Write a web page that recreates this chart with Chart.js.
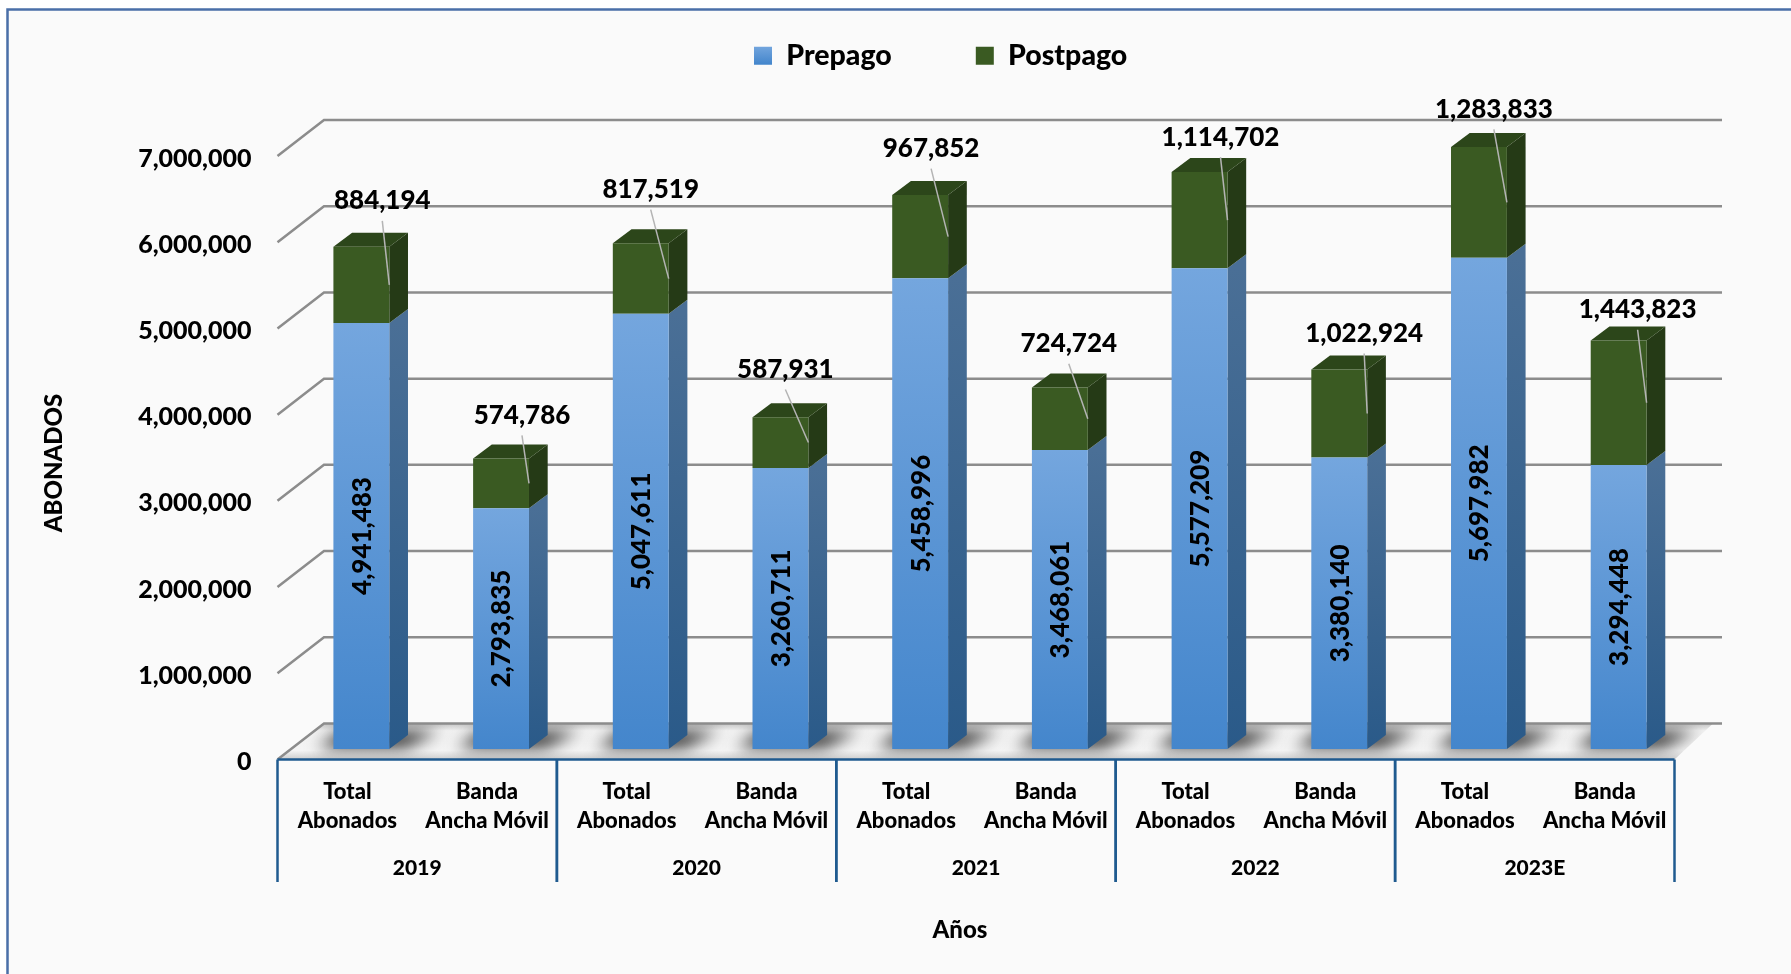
<!DOCTYPE html>
<html lang="es">
<head>
<meta charset="utf-8">
<title>Abonados</title>
<style>html,body{margin:0;padding:0;background:#fff}canvas{display:block}</style>
<script src="https://cdn.jsdelivr.net/npm/chart.js@4"></script>
</head>
<body>
<canvas id="c" width="1791" height="974"></canvas>
<script>
const categories = [
  ['Total','Abonados'],['Banda','Ancha Móvil'],
  ['Total','Abonados'],['Banda','Ancha Móvil'],
  ['Total','Abonados'],['Banda','Ancha Móvil'],
  ['Total','Abonados'],['Banda','Ancha Móvil'],
  ['Total','Abonados'],['Banda','Ancha Móvil']
];
const years = ['2019','2020','2021','2022','2023E'];
const prepago = [4941483,2793835,5047611,3260711,5458996,3468061,5577209,3380140,5697982,3294448];
const postpago = [884194,574786,817519,587931,967852,724724,1114702,1022924,1283833,1443823];
const yAxisTitle = 'ABONADOS';
const xAxisTitle = 'Años';

// Hand placement of the Postpago labels, relative to the end of their leader line
const leaderDx = [-7,-7,-18,-23,-17,-19,-7,-3,-13,-9];
const leaderDy = [-86,-70,-91,-75,-90,-77,-85,-82,-95,-95];

const FONT = 'Lato, Carlito, Calibri, sans-serif';
const WEIGHT = '900';
const fmt = v => v.toLocaleString('en-US');

// Pseudo-3D geometry (px)
const WALL_DX = 46.5, WALL_DY = 36;     // depth of the chart box
const BAR_DX = 14, BAR_DY = 10.5;       // bars sit inside the box
const SIDE_DX = 18.7, SIDE_DY = 14;     // depth of each bar
const LEGEND_X = 754, LEGEND_Y = 41.5, LEGEND_PAD = 84;

function vGrad(c, y0, y1, a, b){
  const g = c.createLinearGradient(0, y0, 0, y1);
  g.addColorStop(0, a); g.addColorStop(1, b);
  return g;
}
function poly(c, pts, fill){
  c.beginPath();
  pts.forEach((p,i)=> i ? c.lineTo(p[0],p[1]) : c.moveTo(p[0],p[1]));
  c.closePath();
  c.fillStyle = fill; c.fill();
}

const chrome = {
  id:'chrome',
  beforeLayout(chart){
    const lg = chart.legend;
    if (lg && !lg._patched){
      const fit = lg.fit;
      lg.fit = function(){ fit.call(this); this.height = 156; };
      lg._patched = true;
    }
  },
  afterLayout(chart){
    const lg = chart.legend;
    lg.left = LEGEND_X - LEGEND_PAD;
    lg.right = chart.width;
    lg.top = LEGEND_Y - LEGEND_PAD;
  },
  beforeDraw(chart){
    const c = chart.ctx;
    c.save();
    c.fillStyle = '#ffffff'; c.fillRect(0,0,chart.width,chart.height);
    c.fillStyle = '#fafafa'; c.fillRect(7,9,chart.width,chart.height);
    c.strokeStyle = '#4a6fa8'; c.lineWidth = 2.5;
    c.beginPath(); c.moveTo(7.5,chart.height); c.lineTo(7.5,9.5); c.lineTo(chart.width,9.5); c.stroke();
    c.restore();
  },
  beforeDatasetsDraw(chart){
    const c = chart.ctx, y = chart.scales.y, a = chart.chartArea;
    const left = a.left, backL = left + WALL_DX, backR = 1722;
    const y0 = y.getPixelForValue(0);

    // floor
    c.save();
    c.beginPath();
    c.moveTo(left, y0); c.lineTo(backL, y0-WALL_DY); c.lineTo(backR-9, y0-WALL_DY); c.lineTo(a.right, y0); c.closePath();
    c.save();
    const fg = c.createLinearGradient(0, y0-WALL_DY, 0, y0);
    fg.addColorStop(0,'#c4c4c4'); fg.addColorStop(.2,'#f2f2f2'); fg.addColorStop(.75,'#f4f4f4'); fg.addColorStop(1,'#cccccc');
    c.fillStyle = fg; c.fill();
    c.clip();
    // bar shadows
    c.filter = 'blur(8px)';
    const meta = chart.getDatasetMeta(0);
    meta.data.forEach(el=>{
      const l = el.x - el.width/2 + BAR_DX, r = el.x + el.width/2 + BAR_DX, b = el.base - BAR_DY;
      poly(c, [[l-16,b-1],[r+16,b-1],[r+50,b-18],[l+8,b-18]], 'rgba(40,40,40,0.95)');
    });
    c.filter = 'none';
    c.restore();
    c.restore();

    // walls: gridlines run back from the axis, then along the rear wall
    c.save();
    c.strokeStyle = '#8c8c8c'; c.lineWidth = 2.5;
    y.ticks.forEach(t=>{
      const py = y.getPixelForValue(t.value);
      c.beginPath();
      c.moveTo(left, py); c.lineTo(backL, py-WALL_DY); c.lineTo(backR, py-WALL_DY);
      c.stroke();
    });
    c.restore();

    // Bars: library elements are shifted inside the box; sides and tops added here
    c.save();
    c.translate(BAR_DX, -BAR_DY);
    [0,1].forEach(ds=>{
      chart.getDatasetMeta(ds).data.forEach(el=>{
        const r = el.x + el.width/2, l = el.x - el.width/2;
        const side = ds === 0 ? vGrad(c, el.y, el.base, '#4a6f96', '#2a5a89') : '#253a16';
        poly(c, [[r,el.base],[r+SIDE_DX,el.base-SIDE_DY],[r+SIDE_DX,el.y-SIDE_DY],[r,el.y]], side);
        if (ds === 1) poly(c, [[l,el.y],[l+SIDE_DX,el.y-SIDE_DY],[r+SIDE_DX,el.y-SIDE_DY],[r,el.y]], '#2c461a');
      });
    });
  },
  afterDatasetsDraw(chart){
    const c = chart.ctx;
    c.restore(); // the bar shift

    // value labels
    c.save();
    c.fillStyle = '#000'; c.textAlign = 'center'; c.textBaseline = 'middle';
    c.font = WEIGHT + ' 26px ' + FONT;
    chart.getDatasetMeta(0).data.forEach((el,i)=>{
      c.save();
      c.translate(el.x + BAR_DX + 1, (el.y + el.base)/2 - BAR_DY);
      c.rotate(-Math.PI/2);
      c.fillText(fmt(prepago[i]), 0, 0);
      c.restore();
    });
    chart.getDatasetMeta(1).data.forEach((el,i)=>{
      const ax = el.x + el.width/2 + BAR_DX, ay = (el.y + el.base)/2 - BAR_DY;
      const lx = ax + leaderDx[i], ly = ay + leaderDy[i];
      c.strokeStyle = '#b4b4b4'; c.lineWidth = 1.5;
      c.beginPath(); c.moveTo(lx, ly+22); c.lineTo(ax, ay); c.stroke();
      c.fillText(fmt(postpago[i]), lx, ly+2);
    });
    c.restore();

    // category axis frame
    const ys = chart.scales.years, a = chart.chartArea;
    c.save();
    c.strokeStyle = '#1f5a8f'; c.lineWidth = 2.5;
    c.beginPath(); c.moveTo(a.left, a.bottom); c.lineTo(a.right, a.bottom); c.stroke();
    const step = (a.right - a.left)/years.length;
    years.forEach((_,i)=>{
      const cx = ys.getPixelForTick(i);
      [cx-step/2, cx+step/2].forEach(px=>{
        c.beginPath(); c.moveTo(px, a.bottom); c.lineTo(px, 882); c.stroke();
      });
    });
    // axis titles
    c.fillStyle = '#000'; c.textAlign = 'center'; c.textBaseline = 'middle';
    c.font = WEIGHT + ' 24px ' + FONT;
    c.fillText(xAxisTitle, 960, 930);
    c.translate(54, 463); c.rotate(-Math.PI/2);
    c.fillText(yAxisTitle, 0, 0);
    c.restore();
  }
};

new Chart(document.getElementById('c'), {
  type:'bar',
  plugins:[chrome],
  data:{
    labels:categories,
    datasets:[
      {label:'Prepago', data:prepago, stack:'s', xAxisID:'x', yAxisID:'y', borderWidth:0,
       backgroundColor:ctx=>{
         const s = ctx.chart.scales.y;
         if (!s || !ctx.parsed) return '#5b9bd5';
         return vGrad(ctx.chart.ctx, s.getPixelForValue(ctx.parsed.y), s.getPixelForValue(0), '#74a6de', '#4486cc');
       }},
      {label:'Postpago', data:postpago, stack:'s', xAxisID:'x', yAxisID:'y', borderWidth:0, backgroundColor:'#3a5a22'}
    ]
  },
  options:{
    responsive:false, animation:false,
    layout:{padding:{left:0,right:116.5,top:0,bottom:0}},
    plugins:{
      tooltip:{enabled:false},
      legend:{
        position:'top', align:'start',
        labels:{
          boxWidth:18, boxHeight:18, padding:LEGEND_PAD, color:'#000',
          font:{family:FONT,weight:WEIGHT,size:28.5},
          generateLabels(chart){
            return chart.data.datasets.map((d,i)=>({
              text:d.label, datasetIndex:i, lineWidth:0,
              fillStyle: i===0 ? vGrad(chart.ctx,46,64,'#74a6de','#4486cc') : '#3a5a22',
              strokeStyle:'transparent'
            }));
          }
        }
      }
    },
    scales:{
      y:{
        min:0,max:7000000,stacked:true,
        afterFit(s){ s.width = 277.5; },
        grid:{display:false}, border:{display:false},
        ticks:{stepSize:1000000,padding:18,labelOffset:2.5,color:'#000',font:{family:FONT,weight:WEIGHT,size:25},callback:v=>fmt(v)}
      },
      x:{
        stacked:true,position:'bottom',
        afterFit(s){ s.height = 86; },
        grid:{display:false}, border:{display:false},
        ticks:{autoSkip:false,maxRotation:0,minRotation:0,padding:10,color:'#000',
               font:{family:FONT,weight:WEIGHT,size:22,lineHeight:'29px'}}
      },
      years:{
        type:'category',labels:years,position:'bottom',offset:true,
        afterFit(s){ s.height = 128.5; },
        grid:{display:false}, border:{display:false},
        ticks:{autoSkip:false,maxRotation:0,minRotation:0,padding:2,color:'#000',
               font:{family:FONT,weight:WEIGHT,size:21}}
      }
    },
    datasets:{bar:{barPercentage:0.4,categoryPercentage:1}}
  }
});
</script>
</body>
</html>
